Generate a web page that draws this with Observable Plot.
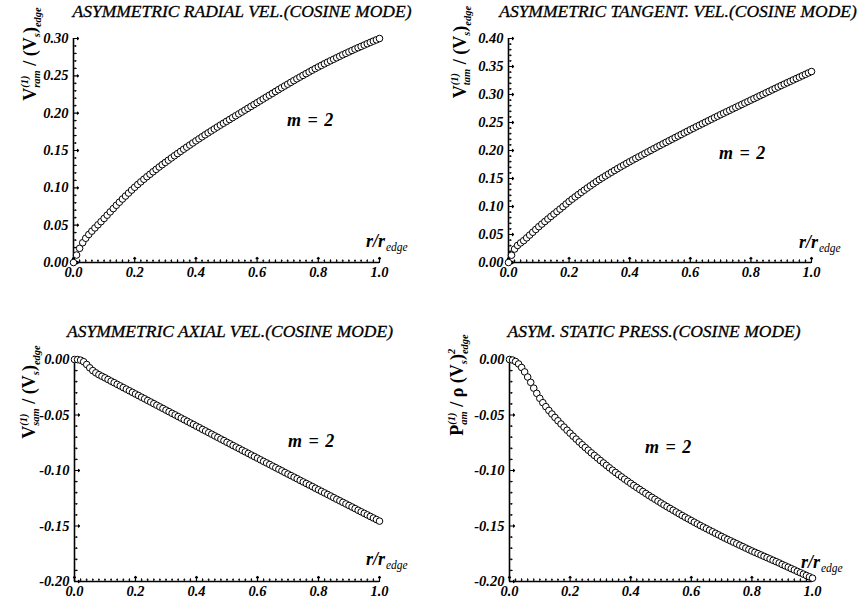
<!DOCTYPE html>
<html><head><meta charset="utf-8">
<script src="https://cdn.jsdelivr.net/npm/d3@7"></script>
<script src="https://cdn.jsdelivr.net/npm/@observablehq/plot@0.6"></script>
<style>
html,body{margin:0;padding:0;background:#fff;}
#wrap{position:relative;width:862px;height:606px;overflow:hidden;background:#fff;}
.panel{position:absolute;}
.panel svg text{font-family:'Liberation Serif','Times New Roman',Times,serif !important;font-weight:700 !important;font-style:italic !important;font-size:14.5px !important;}
#overlay{position:absolute;left:0;top:0;pointer-events:none;}
</style></head><body>
<div id="wrap">
<div class="panel" id="p1" style="left:0px;top:0px"></div>
<div class="panel" id="p2" style="left:431px;top:0px"></div>
<div class="panel" id="p3" style="left:0px;top:303px"></div>
<div class="panel" id="p4" style="left:431px;top:303px"></div>
<svg id="overlay" width="862" height="606"></svg>
</div>
<script>
// r / r_edge sampling (0.00 ... 1.00, step 0.01)
const rEdge = d3.range(101).map(i => i / 100);

const radialVel = [
0.0000,0.0100,0.0190,0.0265,0.0325,0.0375,0.0420,0.0463,0.0505,0.0547,
0.0590,0.0634,0.0678,0.0722,0.0766,0.0808,0.0850,0.0890,0.0930,0.0970,
0.1008,0.1045,0.1080,0.1115,0.1149,0.1182,0.1215,0.1247,0.1279,0.1310,
0.1340,0.1370,0.1400,0.1430,0.1459,0.1488,0.1517,0.1545,0.1573,0.1601,
0.1629,0.1656,0.1683,0.1710,0.1736,0.1762,0.1788,0.1814,0.1840,0.1865,
0.1890,0.1915,0.1940,0.1965,0.1990,0.2015,0.2040,0.2065,0.2090,0.2115,
0.2140,0.2165,0.2190,0.2215,0.2240,0.2265,0.2290,0.2315,0.2340,0.2364,
0.2388,0.2412,0.2436,0.2460,0.2483,0.2506,0.2529,0.2552,0.2575,0.2597,
0.2619,0.2640,0.2661,0.2682,0.2702,0.2722,0.2742,0.2762,0.2782,0.2801,
0.2820,0.2839,0.2858,0.2876,0.2894,0.2912,0.2930,0.2948,0.2965,0.2982,
0.3000];

const tangentVel = [
0.0000,0.0130,0.0240,0.0305,0.0350,0.0390,0.0440,0.0490,0.0540,0.0590,
0.0640,0.0686,0.0732,0.0777,0.0822,0.0866,0.0910,0.0954,0.0998,0.1044,
0.1090,0.1131,0.1172,0.1212,0.1252,0.1291,0.1330,0.1368,0.1406,0.1443,
0.1480,0.1513,0.1546,0.1579,0.1612,0.1644,0.1676,0.1708,0.1739,0.1770,
0.1800,0.1830,0.1859,0.1888,0.1917,0.1946,0.1975,0.2004,0.2033,0.2062,
0.2090,0.2118,0.2146,0.2174,0.2202,0.2230,0.2258,0.2286,0.2314,0.2342,
0.2370,0.2397,0.2424,0.2451,0.2478,0.2505,0.2532,0.2559,0.2586,0.2613,
0.2640,0.2666,0.2692,0.2718,0.2744,0.2770,0.2796,0.2822,0.2848,0.2874,
0.2900,0.2926,0.2952,0.2978,0.3004,0.3030,0.3056,0.3082,0.3108,0.3134,
0.3160,0.3185,0.3210,0.3235,0.3260,0.3285,0.3310,0.3335,0.3360,0.3385,
0.3410];

const axialVel = [
0.0000,-0.0001,-0.0006,-0.0020,-0.0045,-0.0075,-0.0100,-0.0120,-0.0137,-0.0151,
-0.0165,-0.0180,-0.0195,-0.0209,-0.0224,-0.0238,-0.0253,-0.0267,-0.0282,-0.0296,
-0.0311,-0.0325,-0.0340,-0.0354,-0.0369,-0.0383,-0.0398,-0.0412,-0.0427,-0.0441,
-0.0456,-0.0470,-0.0485,-0.0499,-0.0514,-0.0528,-0.0543,-0.0557,-0.0572,-0.0586,
-0.0601,-0.0615,-0.0630,-0.0644,-0.0659,-0.0673,-0.0688,-0.0702,-0.0717,-0.0731,
-0.0746,-0.0760,-0.0775,-0.0789,-0.0803,-0.0818,-0.0832,-0.0846,-0.0861,-0.0875,
-0.0889,-0.0904,-0.0918,-0.0932,-0.0946,-0.0961,-0.0975,-0.0989,-0.1003,-0.1018,
-0.1032,-0.1046,-0.1060,-0.1074,-0.1089,-0.1103,-0.1117,-0.1131,-0.1145,-0.1160,
-0.1174,-0.1188,-0.1202,-0.1216,-0.1230,-0.1245,-0.1259,-0.1273,-0.1287,-0.1301,
-0.1315,-0.1329,-0.1343,-0.1358,-0.1372,-0.1386,-0.1400,-0.1414,-0.1428,-0.1442,
-0.1456];

const staticPress = [
0.0000,-0.0005,-0.0018,-0.0040,-0.0072,-0.0112,-0.0158,-0.0206,-0.0258,-0.0305,
-0.0350,-0.0389,-0.0425,-0.0459,-0.0491,-0.0522,-0.0552,-0.0581,-0.0609,-0.0637,
-0.0664,-0.0691,-0.0717,-0.0743,-0.0768,-0.0793,-0.0817,-0.0841,-0.0864,-0.0887,
-0.0910,-0.0932,-0.0954,-0.0976,-0.0997,-0.1018,-0.1038,-0.1058,-0.1078,-0.1097,
-0.1116,-0.1135,-0.1153,-0.1171,-0.1189,-0.1207,-0.1225,-0.1242,-0.1259,-0.1276,
-0.1293,-0.1310,-0.1326,-0.1342,-0.1358,-0.1374,-0.1390,-0.1406,-0.1421,-0.1436,
-0.1451,-0.1466,-0.1481,-0.1496,-0.1510,-0.1524,-0.1538,-0.1552,-0.1566,-0.1580,
-0.1594,-0.1608,-0.1621,-0.1634,-0.1647,-0.1660,-0.1673,-0.1686,-0.1699,-0.1712,
-0.1725,-0.1737,-0.1749,-0.1761,-0.1773,-0.1785,-0.1797,-0.1809,-0.1821,-0.1833,
-0.1847,-0.1859,-0.1871,-0.1884,-0.1896,-0.1909,-0.1921,-0.1934,-0.1946,-0.1958,
-0.1970];

const xTicks = [0.0, 0.2, 0.4, 0.6, 0.8, 1.0];
const yTicksRadial = [0.00, 0.05, 0.10, 0.15, 0.20, 0.25, 0.30];
const yTicksTangent = [0.00, 0.05, 0.10, 0.15, 0.20, 0.25, 0.30, 0.35, 0.40];
const yTicksNeg = [-0.20, -0.15, -0.10, -0.05, 0.00];

const titles = [
  "ASYMMETRIC RADIAL VEL.(COSINE MODE)",
  "ASYMMETRIC TANGENT. VEL.(COSINE MODE)",
  "ASYMMETRIC AXIAL VEL.(COSINE MODE)",
  "ASYM. STATIC PRESS.(COSINE MODE)"
];
const modeLabel = "m = 2";

const FONT = "'Liberation Serif','Times New Roman',Times,serif";

const panels = [
  {id: "p1", values: radialVel, yDomain: [0, 0.30], yTicks: yTicksRadial, mL: 73, mR: 52, mT: 38, mB: 41},
  {id: "p2", values: tangentVel, yDomain: [0, 0.40], yTicks: yTicksTangent, mL: 77, mR: 51, mT: 38, mB: 41},
  {id: "p3", values: axialVel, yDomain: [-0.20, 0], yTicks: yTicksNeg, mL: 74, mR: 52, mT: 56, mB: 25},
  {id: "p4", values: staticPress, yDomain: [-0.20, 0], yTicks: yTicksNeg, mL: 78, mR: 50, mT: 56, mB: 25}
];

const tickText = {fontFamily: FONT, fontSize: 14.5, fontWeight: "bold", fontStyle: "italic", fill: "black", stroke: "black", strokeWidth: 0.3};

for (const p of panels) {
  const data = rEdge.map((x, i) => ({x, v: p.values[i]}));
  const yMinor = d3.range(Math.round(p.yDomain[0] * 100), Math.round(p.yDomain[1] * 100) + 1)
    .map(k => k / 100).filter(k => Math.abs(Math.round(k * 100)) % 5 !== 0);
  const xMinor = d3.range(0, 51).map(k => k / 50).filter(k => Math.round(k * 50) % 10 !== 0);
  const chart = Plot.plot({
    width: 431, height: 303,
    marginLeft: p.mL, marginRight: p.mR, marginTop: p.mT, marginBottom: p.mB,
    x: {domain: [0, 1], label: null},
    y: {domain: p.yDomain, label: null},
    style: {fontFamily: FONT, fontSize: "14.5px", fontWeight: "bold", fontStyle: "italic", background: "transparent", color: "black", overflow: "visible"},
    marks: [
      Plot.axisX({ticks: xTicks, tickSize: 0, tickPadding: 4, tickFormat: d => d.toFixed(1), ...tickText}),
      Plot.axisY({ticks: p.yTicks, tickSize: 0, tickPadding: 5, tickFormat: d => d.toFixed(2), ...tickText}),
      Plot.vector(xTicks, {x: d => d, frameAnchor: "bottom", length: 5, rotate: 0, anchor: "start", stroke: "black", strokeWidth: 1.2}),
      Plot.vector(xMinor, {x: d => d, frameAnchor: "bottom", length: 2.5, rotate: 0, anchor: "start", stroke: "black", strokeWidth: 1}),
      Plot.vector(p.yTicks, {y: d => d, frameAnchor: "left", length: 5, rotate: 90, anchor: "start", stroke: "black", strokeWidth: 1.2}),
      Plot.vector(yMinor, {y: d => d, frameAnchor: "left", length: 2.5, rotate: 90, anchor: "start", stroke: "black", strokeWidth: 1}),
      Plot.ruleX([0], {stroke: "black", strokeWidth: 1.6}),
      Plot.ruleY([p.yDomain[0]], {stroke: "black", strokeWidth: 1.6}),
      Plot.dot(data, {x: "x", y: "v", r: 3.3, stroke: "black", strokeWidth: 1, fill: "white"})
    ]
  });
  document.getElementById(p.id).appendChild(chart);
}

// ---- text overlay ----
const ov = d3.select("#overlay").attr("font-family", FONT);

const titlePos = [[242, 17], [678, 17], [230, 337], [654, 337]];
titles.forEach((t, i) => {
  ov.append("text").attr("x", titlePos[i][0]).attr("y", titlePos[i][1])
    .attr("text-anchor", "middle").attr("font-style", "italic").attr("font-size", 17.5)
    .attr("stroke", "black").attr("stroke-width", 0.3).text(t);
});

const mPos = [[287, 126], [719, 159], [288, 447], [645, 453]];
mPos.forEach(([x, y]) => {
  ov.append("text").attr("x", x).attr("y", y).attr("font-weight", "bold").attr("font-style", "italic")
    .attr("font-size", 18).attr("word-spacing", 2).text(modeLabel);
});

const rPos = [[366, 247], [799, 248], [366, 565], [801, 568]];
rPos.forEach(([x, y]) => {
  const t = ov.append("text").attr("x", x).attr("y", y).attr("font-style", "italic");
  t.append("tspan").attr("font-weight", "bold").attr("font-size", 18).text("r/r");
  t.append("tspan").attr("font-size", 11.5).attr("dy", 4).attr("dx", 1).text("edge");
});

function yLabel(x, y, head, sup, sub, mid, tailSup) {
  const t = ov.append("text").attr("transform", `translate(${x},${y}) rotate(-90)`)
    .attr("text-anchor", "middle").attr("font-weight", "bold");
  t.append("tspan").attr("font-size", 18).text(head);
  const s1 = t.append("tspan").attr("font-size", 10.5).attr("font-style", "italic").attr("dy", -8).text(sup);
  const s2 = t.append("tspan").attr("font-size", 10.5).attr("font-style", "italic").attr("dy", 12).text(sub);
  s2.attr("dx", -s1.node().getComputedTextLength());
  t.append("tspan").attr("font-size", 18).attr("dy", -4).text(mid);
  t.append("tspan").attr("font-size", 10.5).attr("font-style", "italic").attr("dy", 4).text("s");
  t.append("tspan").attr("font-size", 18).attr("dy", -4).text(")");
  if (tailSup) {
    const a = t.append("tspan").attr("font-size", 10.5).attr("font-style", "italic").attr("dy", -8).text(tailSup);
    const b = t.append("tspan").attr("font-size", 10.5).attr("font-style", "italic").attr("dy", 13).text("edge");
    b.attr("dx", -a.node().getComputedTextLength());
  } else {
    t.append("tspan").attr("font-size", 10.5).attr("font-style", "italic").attr("dy", 5).text("edge");
  }
}
yLabel(36, 54, "V", "(1)", "ram", " / (V", null);
yLabel(466, 52, "V", "(1)", "tam", " / (V", null);
yLabel(35, 392, "V", "(1)", "sam", " / (V", null);
yLabel(463, 385, "P", "(1)", "am", " / \u03C1 (V", "2");
</script>
</body></html>
